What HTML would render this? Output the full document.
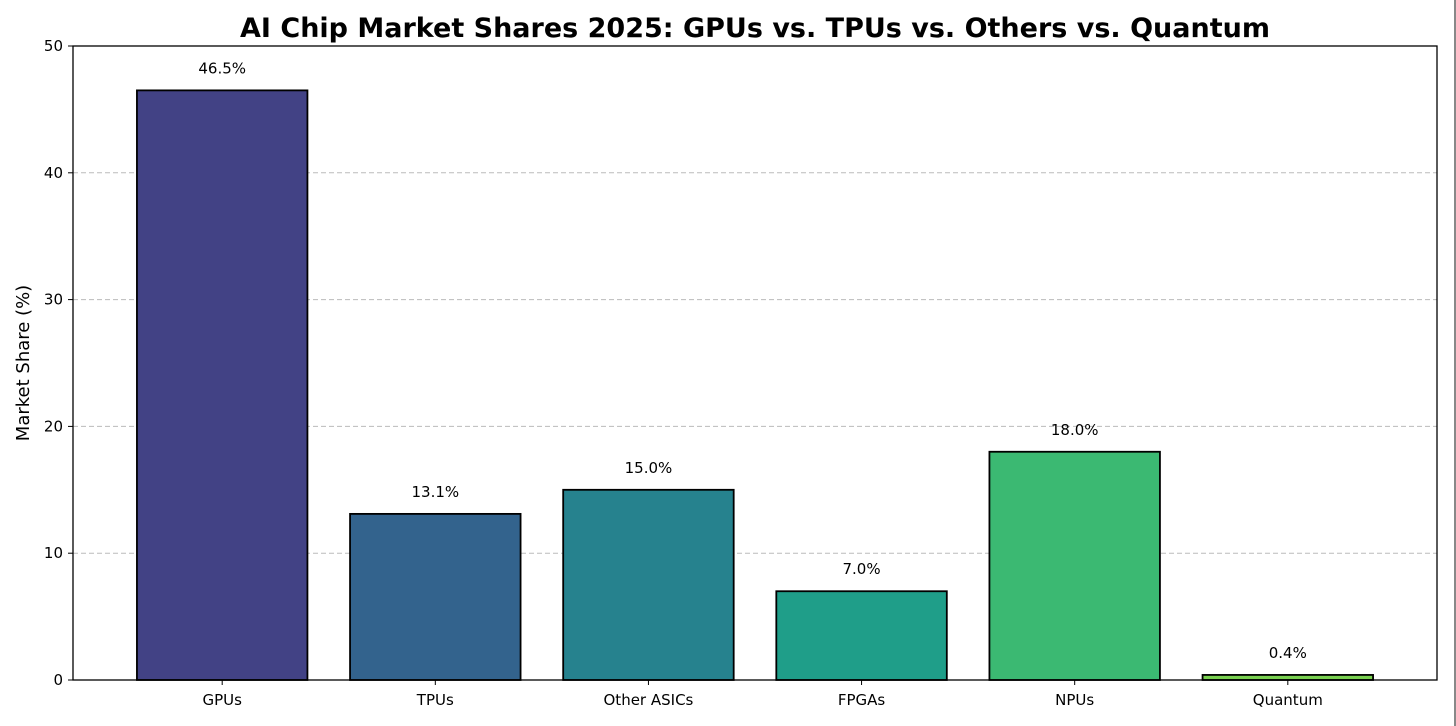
<!DOCTYPE html>
<html><head><meta charset="utf-8"><style>
html,body{margin:0;padding:0;background:#fff;width:1456px;height:726px;overflow:hidden}
svg text{font-family:"DejaVu Sans","Liberation Sans",sans-serif}
</style></head><body>
<svg id="chart" width="1456" height="726" xmlns="http://www.w3.org/2000/svg">
<rect x="1454" y="0" width="2" height="726" fill="#888"/>
<text x="755" y="37" text-anchor="middle" font-size="27" font-weight="bold">AI Chip Market Shares 2025: GPUs vs. TPUs vs. Others vs. Quantum</text>
<g id="grid"></g><g id="bars"></g><g id="axes"></g>
<text transform="translate(29,363) rotate(-90)" text-anchor="middle" font-size="18">Market Share (%)</text>
</svg>
<script>
const categories=["GPUs","TPUs","Other ASICs","FPGAs","NPUs","Quantum"];
const values=[46.5,13.1,15.0,7.0,18.0,0.4];
const colors=["#424285","#33638d","#26828e","#1f9e89","#3bb972","#7ad151"];
const yTicks=[0,10,20,30,40,50];
const L=73,R=1437,T=46,B=680,ymax=50;
const NS="http://www.w3.org/2000/svg";
const y=v=>B-(v/ymax)*(B-T);
const step=(R-L)/(categories.length+0.4);
const x=i=>L+step*(i+0.7);
const bw=step*0.8;
function mk(t,a,p){const e=document.createElementNS(NS,t);for(const k in a)e.setAttribute(k,a[k]);p.appendChild(e);return e;}
const grid=document.getElementById('grid'),bars=document.getElementById('bars'),axes=document.getElementById('axes');
yTicks.forEach(t=>{
 if(t>0&&t<ymax){const g=mk('line',{x1:L,x2:R,y1:y(t),y2:y(t),stroke:'#bbb','stroke-dasharray':'5,3','stroke-width':1},grid);
 
 }
 const tk=mk('line',{x1:L-5,x2:L,y1:y(t),y2:y(t),stroke:'#000'},axes);
 
 
 const tl=mk('text',{x:L-10,y:y(t)+5,'text-anchor':'end','font-size':15},axes);tl.textContent=t;
 
 
});
categories.forEach((c,i)=>{
 const r=mk('rect',{x:x(i)-bw/2,y:y(values[i]),width:bw,height:B-y(values[i]),fill:colors[i],stroke:'#000','stroke-width':1.8},bars);
 
 
 const lb=mk('text',{x:x(i),y:y(values[i])-17,'text-anchor':'middle','font-size':15},bars);lb.textContent=values[i].toFixed(1)+'%';
 
 
 const tk=mk('line',{x1:x(i),x2:x(i),y1:B,y2:B+5,stroke:'#000'},axes);
 
 
 const tl=mk('text',{x:x(i),y:B+25,'text-anchor':'middle','font-size':15},axes);tl.textContent=c;
 
 
});
const fr=mk('rect',{x:L,y:T,width:R-L,height:B-T,fill:'none',stroke:'#000','stroke-width':1.3},axes);


</script>
</body></html>
